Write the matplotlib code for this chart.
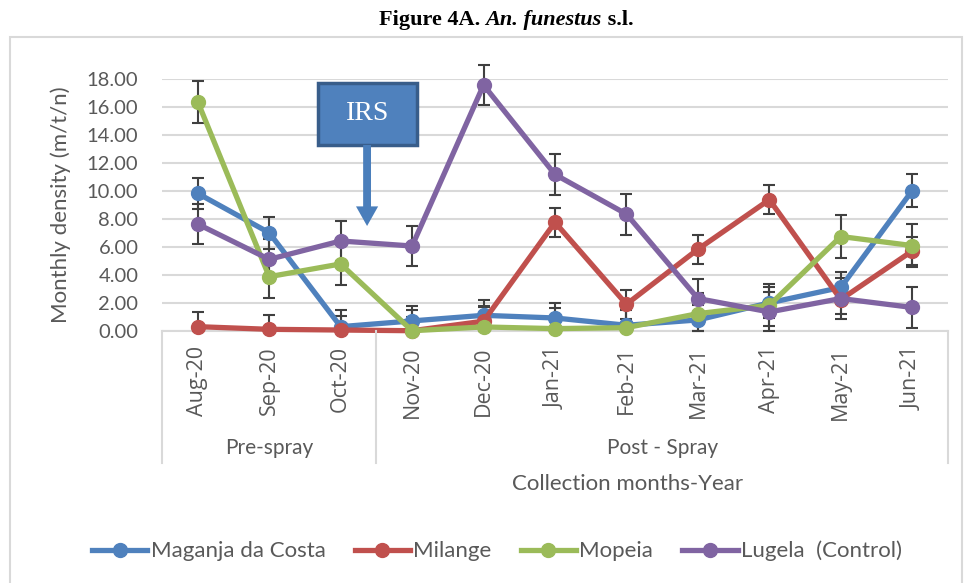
import matplotlib
matplotlib.use("Agg")
import matplotlib.pyplot as plt
from matplotlib.lines import Line2D
from matplotlib.patches import Rectangle, FancyArrow
from matplotlib.transforms import blended_transform_factory

months = ["Aug-20", "Sep-20", "Oct-20", "Nov-20", "Dec-20", "Jan-21",
          "Feb-21", "Mar-21", "Apr-21", "May-21", "Jun-21"]
groups = ["Pre-spray", "Post - Spray"]
group_sizes = [3, 8]

maganja = [9.83, 7.02, 0.31, 0.72, 1.12, 0.93, 0.41, 0.79, 2.01, 3.11, 10.03]
milange = [0.31, 0.12, 0.07, 0.02, 0.70, 7.76, 1.91, 5.84, 9.38, 2.25, 5.72]
mopeia = [16.38, 3.88, 4.79, 0.02, 0.29, 0.17, 0.24, 1.24, 1.84, 6.75, 6.10]
lugela = [7.64, 5.12, 6.43, 6.07, 17.57, 11.18, 8.35, 2.32, 1.36, 2.32, 1.68]

maganja_err = [1.10, 1.15, 1.20, 1.10, 1.10, 1.08, 1.10, 1.10, 1.10, 1.08, 1.15]
milange_err = [1.05, 1.00, 1.00, 1.00, 1.00, 1.02, 1.05, 1.03, 1.03, 1.00, 1.00]
mopeia_err = [1.50, 1.50, 1.50, 1.50, 1.50, 1.50, 1.50, 1.50, 1.50, 1.51, 1.56]
lugela_err = [1.40, 1.45, 1.45, 1.45, 1.45, 1.45, 1.46, 1.40, 1.45, 1.45, 1.48]

series = [
    ("Maganja da Costa", maganja, maganja_err, "#4F81BD"),
    ("Milange", milange, milange_err, "#C0504D"),
    ("Mopeia", mopeia, mopeia_err, "#9BBB59"),
    ("Lugela  (Control)", lugela, lugela_err, "#8064A2"),
]

W, H = 967, 583
fig = plt.figure(figsize=(W / 100, H / 100), dpi=100)

# axes box in pixel units
left, right, top, bottom = 162, 948, 79, 331
ax = fig.add_axes([left / W, 1 - bottom / H, (right - left) / W, (bottom - top) / H])

label_font = ["Lato", "DejaVu Sans"]
grey_text = "#595959"
grid_col = "#D9D9D9"

x = list(range(len(months)))
for name, vals, err, col in series:
    lower = [min(e, v) for v, e in zip(vals, err)]
    eb = ax.errorbar(x, vals, yerr=[lower, err], fmt="none", ecolor="#404040",
                     elinewidth=1.5, capsize=4, capthick=1.5, zorder=3)
    for artist in eb.lines[1] + eb.lines[2]:
        artist.set_clip_on(False)
    ax.plot(x, vals, color=col, lw=3.8, marker="o", ms=10, label=name,
            zorder=4, clip_on=False)

ax.set_xlim(-0.5, len(months) - 0.5)
ax.set_ylim(0, 18)
ax.set_yticks(range(0, 19, 2))
ax.set_yticklabels([f"{v:.2f}" for v in range(0, 19, 2)], family=label_font,
                   fontsize=14.5, color=grey_text)
ax.set_xticks(x)
ax.set_xticklabels(months, rotation=90, family=["Open Sans", "DejaVu Sans"],
                   fontsize=15.5, color=grey_text, va="top")
ax.tick_params(axis="x", length=0, pad=11)
ax.tick_params(axis="y", length=0, pad=17)
ax.grid(axis="y", color=grid_col, lw=1.5)
ax.set_axisbelow(True)
for side in ["left", "right", "top"]:
    ax.spines[side].set_visible(False)
ax.spines["bottom"].set_color(grid_col)
ax.spines["bottom"].set_linewidth(1.5)

ax.set_ylabel("Monthly density (m/t/n)", family=label_font, fontsize=16,
              color=grey_text, labelpad=11)

# two-level category axis: group separators and group names
trans = blended_transform_factory(ax.transData, fig.transFigure)
edges = [-0.5]
for n in group_sizes:
    edges.append(edges[-1] + n)
for e in edges:
    fig.add_artist(Line2D([e, e], [1 - bottom / H, 1 - 463 / H], transform=trans,
                          color=grid_col, lw=1.5))
for g, a, b in zip(groups, edges[:-1], edges[1:]):
    fig.text((a + b) / 2, 1 - 448 / H, g, transform=trans, ha="center",
             va="center", family=label_font, fontsize=15, color=grey_text)

fig.text(628 / W, 1 - 484 / H, "Collection months-Year", ha="center",
         va="center", family=label_font, fontsize=16, color=grey_text)

# IRS marker box with arrow
ax.add_patch(Rectangle((1.68, 13.29), 1.39, 4.42, facecolor="#4F81BD",
                       edgecolor="#385D8A", lw=2.5, zorder=6, clip_on=False))
ax.text(2.375, 15.5, "IRS", ha="center", va="center", color="white",
        family="Liberation Serif", fontsize=20, zorder=7)
ax.add_patch(FancyArrow(2.37, 13.29, 0, -5.79, width=0.11, head_width=0.31,
                        head_length=1.4, length_includes_head=True,
                        color="#4A7EBB", lw=0, zorder=6))

fig.legend(loc="center", bbox_to_anchor=(497 / W, 1 - 551 / H), ncol=4,
           frameon=False, prop={"family": label_font, "size": 16},
           labelcolor=grey_text, handlelength=2.5, handletextpad=0.15,
           columnspacing=1.3)

# title in three pieces: bold, bold italic, bold
title_parts = [("Figure 4A. ", "normal"), ("An. funestus", "italic"), (" s.l.", "normal")]
texts = [fig.text(0, 1 - 20 / H, s, va="center", family="Liberation Serif",
                  fontsize=16, weight="bold", style=st) for s, st in title_parts]
renderer = fig.canvas.get_renderer()
widths = [t.get_window_extent(renderer).width for t in texts]
xpos = 506 - sum(widths) / 2
for t, w in zip(texts, widths):
    t.set_x(xpos / W)
    xpos += w

# light frame around the chart
fig.add_artist(Rectangle((10 / W, -0.01), 952 / W, 1.01 - 37 / H,
                         transform=fig.transFigure, fill=False,
                         edgecolor=grid_col, lw=1.5))

fig.savefig("out.png", dpi=100)
